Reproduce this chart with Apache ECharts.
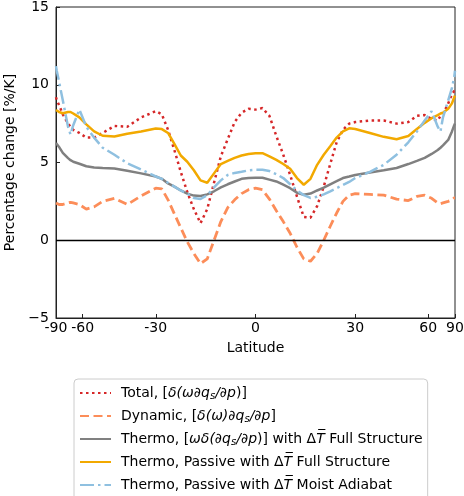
<!DOCTYPE html>
<html><head><meta charset="utf-8">
<script src="https://cdn.jsdelivr.net/npm/echarts@6/dist/echarts.min.js"></script>
<style>html,body{margin:0;padding:0;background:#fff}#c{width:464px;height:496px}</style>
</head><body><div id="c"></div>
<script>
// Latitude grid (degrees)
const latitudes = [-90,-85,-80,-75,-70,-68,-66,-62,-58,-54,-50,-45,-40,-35,-30,
  -28,-26,-24,-22,-20,-18,-16,-14,-12,-10,-8,-6,-4,-2,0,2,4,6,8,10,12,14,16,18,20,22,24,26,28,30,
  35,40,45,50,54,58,62,66,68,70,75,80,85,90];

const totalVals = [9.2,9.0,8.7,8.1,7.5,7.3,7.1,6.9,6.6,6.6,6.9,7.35,7.3,7.9,8.3,
  8.1,7.1,5.8,4.4,3.1,2.0,1.1,2.0,3.7,5.4,6.5,7.6,8.2,8.45,8.4,8.5,8.0,6.7,5.5,4.2,2.8,1.5,1.45,2.2,3.45,4.9,6.3,7.1,7.5,7.6,
  7.7,7.7,7.5,7.6,8.0,8.05,7.8,7.7,8.0,8.1,8.8,9.4,9.6,9.6];

const dynamicVals = [2.4,2.4,2.3,2.3,2.4,2.44,2.4,2.3,2.0,2.15,2.5,2.7,2.3,2.85,3.35,
  3.3,2.6,1.7,0.8,-0.1,-0.85,-1.5,-1.2,0.0,1.2,2.1,2.6,3.0,3.25,3.35,3.25,2.65,1.9,1.2,0.45,-0.45,-1.2,-1.35,-0.85,0.0,0.9,1.75,2.5,2.9,3.0,
  2.95,2.9,2.65,2.55,2.82,2.9,2.7,2.4,2.35,2.4,2.5,2.6,2.72,2.72];

const thermoFullVals = [6.25,6.15,6.0,5.62,5.28,5.15,5.05,4.92,4.76,4.68,4.64,4.62,4.47,4.3,4.1,
  3.95,3.65,3.45,3.2,3.0,2.87,2.85,2.95,3.15,3.4,3.6,3.78,3.95,4.0,4.02,4.02,3.9,3.78,3.57,3.35,3.05,2.93,3.0,3.2,3.38,3.6,3.8,4.0,4.1,4.2,
  4.35,4.5,4.65,4.9,5.1,5.3,5.55,5.8,5.95,6.1,6.45,7.0,7.4,7.5];

const passiveFullVals = [8.38,8.35,8.25,8.17,8.25,8.25,8.15,7.9,7.45,7.0,6.72,6.67,6.85,7.0,7.18,
  7.15,6.9,6.2,5.45,5.05,4.5,3.85,3.7,4.3,4.9,5.1,5.3,5.45,5.55,5.6,5.6,5.4,5.17,4.9,4.6,4.0,3.57,3.95,4.85,5.5,6.05,6.6,7.0,7.2,7.15,
  6.9,6.65,6.5,6.7,7.15,7.55,7.85,8.05,8.15,8.2,8.45,8.8,9.2,9.3];

const passiveMoistVals = [11.2,10.9,10.2,9.0,7.3,6.8,7.4,8.4,7.3,6.6,5.95,5.5,4.95,4.55,4.1,
  3.95,3.7,3.45,3.2,3.0,2.72,2.65,2.9,3.4,3.85,4.2,4.33,4.4,4.5,4.53,4.53,4.45,4.25,4.0,3.6,3.2,2.9,2.72,2.8,2.95,3.15,3.35,3.55,3.75,4.0,
  4.4,4.85,5.5,6.3,7.0,7.7,8.3,7.3,7.0,7.9,9.0,9.8,10.5,10.9];

const xTickLats = [-90,-60,-30,0,30,60,90];
const yTicks = [-5,0,5,10,15];

const seriesNames = ['Total','Dynamic','ThermoFull','PassiveFull','PassiveMoist'];
const legendLabels = [
  'Total, [{i|δ(ω∂q}{sub|s}{i|/∂p}{n|)]}',
  'Dynamic, [{i|δ(ω)∂q}{sub|s}{i|/∂p}{n|]}',
  'Thermo, [{i|ωδ(∂q}{sub|s}{i|/∂p}{n|)] with Δ}{i|T\u0305}{n| Full Structure}',
  'Thermo, Passive with Δ{i|T\u0305}{n| Full Structure}',
  'Thermo, Passive with Δ{i|T\u0305}{n| Moist Adiabat}'
];

const FONT = 'DejaVu Sans';
const FS = 14;
const sinLat = l => Math.sin(l * Math.PI / 180);
const toPairs = vals => latitudes.map((l, i) => [sinLat(l), vals[i]]);
const xTickVals = xTickLats.map(sinLat);

const styles = [
  {color:'#d62728', width:2.5, type:[2.5,3.5]},
  {color:'#fc8d59', width:2.8, type:[9,4.5]},
  {color:'#808080', width:2.5, type:'solid'},
  {color:'#f2a900', width:2.5, type:'solid'},
  {color:'#8fc0e0', width:2.5, type:[14,4,2.5,4]}
];
const valueSets = [totalVals, dynamicVals, thermoFullVals, passiveFullVals, passiveMoistVals];

const series = valueSets.map((vals, k) => ({
  name: seriesNames[k],
  type: 'line',
  data: toPairs(vals),
  showSymbol: false,
  symbol: 'none',
  smooth: false,
  z: 3 + k,
  lineStyle: {color: styles[k].color, width: styles[k].width, type: styles[k].type, cap: 'butt'},
  itemStyle: {color: styles[k].color},
  emphasis: {disabled: true}
}));
series[2].markLine = {
  silent: true, symbol: 'none', label: {show: false},
  lineStyle: {color: '#000', width: 1.3, type: 'solid'},
  data: [{yAxis: 0}]
};

const chart = echarts.init(document.getElementById('c'), null, {renderer: 'canvas'});
chart.setOption({
  animation: false,
  backgroundColor: '#fff',
  textStyle: {fontFamily: FONT},
  graphic: [{
    type: 'text', left: 'center', top: -13.5, silent: true, z: -1,
    style: {text: 'Decomposition of change in extreme daily precipitation, averaged', font: '14px "DejaVu Sans"', fill: '#000'}
  }],
  grid: {left: 56, right: 9, top: 7, bottom: 178, outerBoundsMode: 'none', containLabel: false,
    show: true, borderColor: '#222', borderWidth: 1, backgroundColor: 'transparent'},
  xAxis: {
    type: 'value', min: -1, max: 1,
    name: 'Latitude', nameLocation: 'middle', nameGap: 23,
    nameTextStyle: {fontSize: FS, color: '#000', fontFamily: FONT},
    axisLine: {show: true, onZero: false, lineStyle: {color: '#222', width: 1}},
    axisTick: {show: true, inside: true, length: 4, customValues: xTickVals, lineStyle: {color: '#222'}},
    axisLabel: {
      customValues: xTickVals, margin: 3, fontSize: FS, color: '#000', fontFamily: FONT,
      formatter: v => String(Math.round(Math.asin(Math.max(-1, Math.min(1, v))) * 180 / Math.PI))
    },
    splitLine: {show: false}
  },
  yAxis: {
    type: 'value', min: yTicks[0], max: yTicks[yTicks.length - 1], interval: 5,
    name: 'Percentage change [%/K]', nameLocation: 'middle', nameGap: 25,
    nameTextStyle: {fontSize: FS, color: '#000', fontFamily: FONT},
    axisLine: {show: true, onZero: false, lineStyle: {color: '#222', width: 1}},
    axisTick: {show: true, inside: true, length: 4, lineStyle: {color: '#222'}},
    axisLabel: {margin: 7, fontSize: FS, color: '#000', fontFamily: FONT,
      formatter: v => v < 0 ? '\u2212' + (-v) : String(v)},
    splitLine: {show: false}
  },
  legend: {
    orient: 'vertical', left: 74, top: 379, height: 160,
    itemWidth: 31, itemHeight: 12, itemGap: 7,
    padding: [6, 5, 12, 5],
    backgroundColor: '#fff', borderColor: '#ccc', borderWidth: 1, borderRadius: 4,
    data: seriesNames,
    selectedMode: false,
    itemStyle: {opacity: 0},
    formatter: name => legendLabels[seriesNames.indexOf(name)],
    textStyle: {
      fontSize: FS, color: '#000', fontFamily: FONT, padding: [0, 0, 0, 5], lineHeight: 16,
      rich: {
        i: {fontSize: FS, fontStyle: 'italic', fontFamily: FONT, color: '#000', lineHeight: 16},
        n: {fontSize: FS, fontFamily: FONT, color: '#000', lineHeight: 16},
        sub: {fontSize: 10, fontStyle: 'italic', fontFamily: FONT, color: '#000', verticalAlign: 'bottom', lineHeight: 12}
      }
    }
  },
  series: series
});
</script>
</body></html>
